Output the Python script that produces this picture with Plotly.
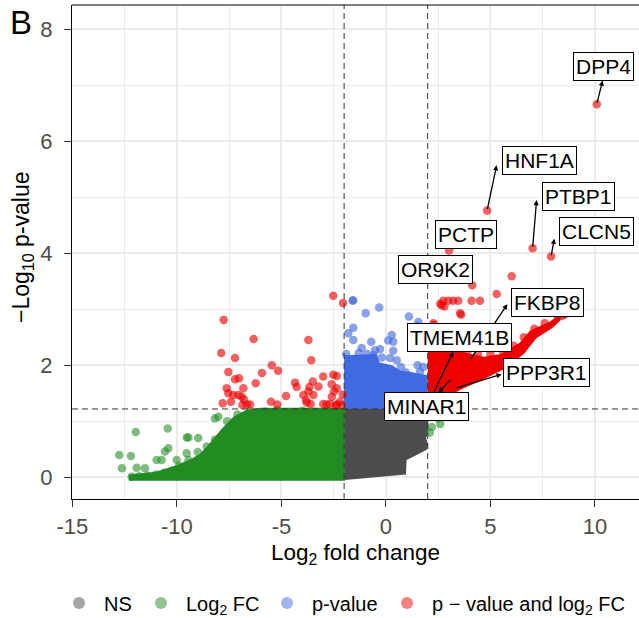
import plotly.graph_objects as go

# ---------------- data ----------------
x_ticks = [-15, -10, -5, 0, 5, 10]
x_ticklabels = ["-15", "-10", "-5", "0", "5", "10"]
y_ticks = [0, 2, 4, 6, 8]
y_ticklabels = ["0", "2", "4", "6", "8"]

fc_cutoff = 2.0
p_cutoff = 1.22   # -log10 p threshold line

# dense clouds (outline of the over-plotted areas)
ns_poly_x = [-1.96, 2.03, 2.03, 1.92, 2.03, 1.95, 1.47, 0.99, 0.96, -0.12, -1.96]
ns_poly_y = [1.23, 1.23, 0.79, 0.70, 0.58, 0.49, 0.40, 0.31, 0.05, 0.01, -0.05]

fc_poly_x = [-12.3, -12.3, -11.0, -10.0, -9.3, -8.9, -8.4, -7.9, -7.3, -6.7, -6.0, -1.96, -1.96]
fc_poly_y = [-0.06, 0.05, 0.10, 0.22, 0.33, 0.42, 0.62, 0.85, 1.08, 1.20, 1.24, 1.24, -0.06]

p_poly_x = [-2.0, -2.0, -0.45, -0.3, 0.3, 0.7, 1.2, 2.0, 2.0]
p_poly_y = [1.22, 2.18, 2.20, 2.05, 2.00, 1.90, 1.88, 1.82, 1.22]

both_poly_x = [2.0, 2.8, 3.3, 4.5, 5.6, 6.6, 7.2, 7.95, 8.35, 8.3, 7.85, 6.9, 6.4, 5.5, 4.7, 3.5, 2.6, 2.0]
both_poly_y = [1.22, 1.30, 1.52, 1.72, 1.92, 2.20, 2.48, 2.66, 2.80, 2.90, 2.78, 2.62, 2.40, 2.20, 2.15, 2.25, 2.36, 2.33]

# individually visible points
fc_x = [-11.97, -10.44, -12.76, -12.20, -12.63, -11.93, -12.16, -11.53, -10.97, -10.57, -10.41, -10.73,
        -10.01, -9.53, -9.45, -8.98, -9.53, -9.45, -8.57, -8.18, -8.18, -8.02, -11.8, -11.4, -11.0,
        -10.6, -10.2, -9.9, -9.0, -7.6, -7.1, -6.5, -5.8, -5.2, -4.6, -4.0, -3.4, -2.8, -2.3,
        2.1, 2.3, 2.5, 2.6, 2.2, 2.1]
fc_y = [0.81, 0.87, 0.40, 0.38, 0.16, 0.17, 0.01, 0.16, 0.31, 0.46, 0.52, 0.31,
        0.31, 0.71, 0.71, 0.70, 0.43, 0.31, 0.55, 0.67, 1.05, 1.08, 0.02, 0.03, 0.05,
        0.08, 0.12, 0.20, 0.45, 1.00, 1.12, 1.18, 1.17, 1.20, 1.16, 1.19, 1.17, 1.19, 1.16,
        1.15, 1.10, 1.05, 0.95, 0.90, 0.80]

p_x = [-1.59, -1.57, -0.32, -0.97, 1.10, 1.55, 1.52, -1.56, -1.80, -1.56, -0.70, -1.16, 0.28, 0.35,
       0.11, -0.52, -0.28, -0.20, -0.60, 0.35, 0.72, 0.96, 1.52, 1.79, 1.63, 0.20, 0.52,
       -1.9, -1.3, -0.9]
p_y = [3.15, 3.16, 3.03, 2.93, 2.87, 2.77, 2.70, 2.67, 2.57, 2.45, 2.42, 2.31, 2.54, 2.42,
       2.44, 2.27, 2.29, 2.14, 2.18, 2.26, 1.97, 1.87, 2.00, 1.97, 1.88, 2.13, 2.09,
       2.20, 2.22, 2.20]

both_x = [-2.52, -2.05, -7.76, -6.33, -3.71, -7.88, -7.22, -3.57, -5.46, -5.16, -7.54, -5.93, -7.22,
          -7.03, -6.23, -3.00, -2.52, -2.35, -4.35, -4.27, -3.50, -3.23, -2.59, -3.66, -3.71,
          -7.62, -7.54, -6.82, -7.06, -6.90, -6.79, -7.30, -4.78, -3.95, -3.82, -3.47, -2.48,
          -2.35, -2.07, -2.59, -7.81, -7.41, -5.50, -5.20, -3.79, -3.60, -3.00, -2.84, -2.68,
          -2.35, -2.11, -6.87, -6.66, -6.50, -2.2, -2.4,
          10.09, 4.84, 7.02, 7.90, 3.02, 4.13, 4.02, 2.27, 3.15, 3.31,
          6.02, 5.30, 2.75, 2.99, 3.22, 3.46, 4.10, 4.50, 2.67, 3.55, 3.60, 2.27, 2.30,
          8.22, 8.41, 8.54, 2.60, 2.80,
          2.4, 2.9, 3.4, 3.9, 4.4, 5.0, 5.6, 6.1, 6.6, 7.1, 7.6]
both_y = [3.24, 3.11, 2.81, 2.47, 2.45, 2.22, 2.13, 2.09, 2.00, 1.90, 1.88, 1.86, 1.75,
          1.77, 1.68, 1.80, 1.83, 1.81, 1.69, 1.61, 1.71, 1.62, 1.66, 1.61, 1.53,
          1.59, 1.50, 1.59, 1.47, 1.44, 1.39, 1.47, 1.45, 1.47, 1.38, 1.47, 1.53,
          1.59, 1.48, 1.44, 1.32, 1.35, 1.35, 1.30, 1.33, 1.31, 1.31, 1.30, 1.31,
          1.30, 1.29, 1.29, 1.30, 1.30, 1.35, 1.28,
          6.66, 4.76, 4.09, 3.94, 4.05, 3.43, 2.09, 1.50, 1.77, 1.59,
          3.59, 3.27, 3.15, 3.15, 3.15, 3.15, 3.15, 3.15, 3.07, 2.93, 2.90, 2.75, 2.72,
          2.87, 2.88, 2.90, 3.10, 3.05,
          2.40, 2.35, 2.30, 2.25, 2.20, 2.20, 2.25, 2.35, 2.50, 2.65, 2.75]

# labelled genes: label position, arrow head (at label) and point
gene_names = ["DPP4", "HNF1A", "PTBP1", "CLCN5", "PCTP", "OR9K2", "FKBP8", "TMEM41B", "MINAR1", "PPP3R1"]
gene_x = [10.09, 4.84, 7.02, 7.90, 3.02, 4.13, 4.02, 2.27, 3.15, 3.31]
gene_y = [6.66, 4.76, 4.09, 3.94, 4.05, 3.43, 2.09, 1.50, 1.77, 1.59]
label_x = [10.40, 7.33, 9.21, 10.10, 3.85, 2.36, 7.71, 3.54, 1.95, 7.70]
label_y = [7.33, 5.65, 5.01, 4.38, 4.33, 3.71, 3.12, 2.49, 1.26, 1.87]
head_x = [10.37, 5.30, 7.21, 8.06, None, None, 5.81, 3.22, 2.51, 5.54]
head_y = [7.08, 5.57, 4.95, 4.26, None, None, 3.09, 2.24, 1.51, 1.84]

legend_names = ["NS", "Log<sub>2</sub> FC", "p-value", "p \u2212 value and log<sub>2</sub> FC"]
legend_left_px = [54, 136, 262, 382]   # where each legend entry starts

# ---------------- styling ----------------
FONT = "Liberation Sans, Arial, Helvetica, sans-serif"
solid = ["#4D4D4D", "#228B22", "#4169E1", "#EE0000"]
alpha = ["rgba(77,77,77,0.55)", "rgba(34,139,34,0.58)", "rgba(65,105,225,0.62)", "rgba(238,0,0,0.62)"]
MS = 8.5
W, H = 639, 618
ML, MR, MT, MB = 72, 0, 5, 119
PW = W - ML - MR
PH = H - MT - MB

fig = go.Figure()

polys = [(ns_poly_x, ns_poly_y), (fc_poly_x, fc_poly_y), (p_poly_x, p_poly_y), (both_poly_x, both_poly_y)]
for (px, py), c in zip(polys, solid):
    fig.add_trace(go.Scatter(x=px, y=py, mode="lines", fill="toself", fillcolor=c,
                             line=dict(width=0, color=c), hoverinfo="skip", showlegend=False))

pts = [(fc_x, fc_y, alpha[1]), (p_x, p_y, alpha[2]), (both_x, both_y, alpha[3])]
for px, py, c in pts:
    fig.add_trace(go.Scatter(x=px, y=py, mode="markers",
                             marker=dict(size=MS, color=c, line=dict(width=0)),
                             showlegend=False))

legend_ids = ["legend", "legend2", "legend3", "legend4"]
legend_alpha = ["rgba(77,77,77,0.5)", "rgba(34,139,34,0.5)", "rgba(65,105,225,0.5)", "rgba(238,0,0,0.5)"]
for name, c, lid in zip(legend_names, legend_alpha, legend_ids):
    fig.add_trace(go.Scatter(x=[None], y=[None], mode="markers", name=name, legend=lid,
                             marker=dict(size=12, color=c, line=dict(width=0))))

# cutoff lines
for xv in (-fc_cutoff, fc_cutoff):
    fig.add_vline(x=xv, line=dict(color="#333333", width=1, dash="6px,4px"), layer="above")
fig.add_hline(y=p_cutoff, line=dict(color="#333333", width=1, dash="6px,4px"), layer="above")

# top panel border
fig.add_shape(type="line", xref="paper", yref="paper", x0=0, x1=1, y0=1, y1=1,
              line=dict(color="black", width=1))

# arrows then labels
for i, g in enumerate(gene_names):
    if head_x[i] is not None:
        fig.add_annotation(x=head_x[i], y=head_y[i], ax=gene_x[i], ay=gene_y[i],
                           xref="x", yref="y", axref="x", ayref="y", text="",
                           showarrow=True, arrowhead=2, arrowsize=0.8, arrowwidth=1.3,
                           arrowcolor="black", standoff=0, startstandoff=0)
for i, g in enumerate(gene_names):
    fig.add_annotation(x=label_x[i], y=label_y[i], xref="x", yref="y", text=g,
                       showarrow=False, bgcolor="white", bordercolor="black", borderwidth=1,
                       borderpad=2, font=dict(family=FONT, size=21, color="black"))

fig.add_annotation(text="B", xref="paper", yref="paper", x=(8 - ML) / PW, y=1.0 + 3 / PH,
                   xanchor="left", yanchor="top", showarrow=False,
                   font=dict(family=FONT, size=33, color="black"))

# y-axis title placed as rotated text in the left margin
fig.add_annotation(text="\u2212Log<sub>10</sub> p-value", xref="paper", yref="paper",
                   x=(23 - ML) / PW, y=(H - MB - 247) / PH, xanchor="center", yanchor="middle",
                   textangle=-90, showarrow=False,
                   font=dict(family=FONT, size=23, color="black"))

axis_common = dict(showgrid=True, gridcolor="#EBEBEB", gridwidth=1.6, zeroline=False,
                   showline=True, linecolor="black", linewidth=1.3, ticks="outside",
                   ticklen=7, tickwidth=1.3, tickcolor="#333333", automargin=False,
                   tickfont=dict(family=FONT, size=22, color="#4D4D4D"))

leg_common = dict(orientation="h", y=-(603 - (H - MB)) / PH, yanchor="middle", xanchor="left",
                  font=dict(family=FONT, size=20, color="black"), itemwidth=40,
                  bgcolor="rgba(0,0,0,0)", borderwidth=0)
legends = {}
for lid, lp in zip(legend_ids, legend_left_px):
    legends[lid] = dict(x=(lp - ML) / PW, **leg_common)

fig.update_layout(
    width=W, height=H,
    margin=dict(l=ML, r=MR, t=MT, b=MB, autoexpand=False),
    paper_bgcolor="white", plot_bgcolor="white",
    font=dict(family=FONT, color="black"),
    xaxis=dict(range=[-15.02, 12.11], tickvals=x_ticks, ticktext=x_ticklabels,
               minor=dict(dtick=2.5, tick0=0, showgrid=True, gridcolor="#EBEBEB", gridwidth=0.8),
               title=dict(text="Log<sub>2</sub> fold change", standoff=6,
                          font=dict(family=FONT, size=22.5, color="black")),
               **axis_common),
    yaxis=dict(range=[-0.387, 8.43], tickvals=y_ticks, ticktext=y_ticklabels,
               ticklabelstandoff=7,
               minor=dict(dtick=1, tick0=0, showgrid=True, gridcolor="#EBEBEB", gridwidth=0.8),
               **axis_common),
    showlegend=True,
    **legends,
)

fig.write_html("out.html")
